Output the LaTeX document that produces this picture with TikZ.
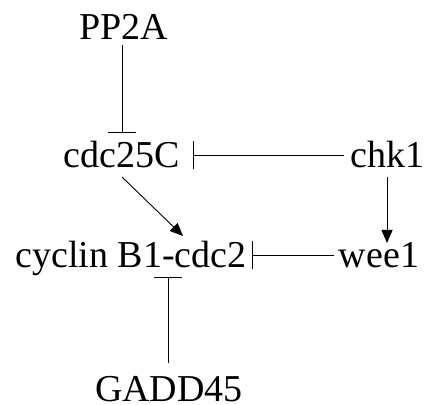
\documentclass[tikz,border=0pt]{standalone}
\usepackage{fontspec}
\setmainfont{Liberation Serif}
\usetikzlibrary{arrows.meta,calc}
\begin{document}
\begin{tikzpicture}[x=1pt,y=1pt,
  lbl/.style={inner sep=0pt,anchor=base,font=\fontsize{38}{40}\selectfont},
  inh/.style={line width=0.9pt,-{Bar[width=28pt,line width=0.9pt]}},
  act/.style={line width=0.9pt,-{Triangle[length=13pt,width=11pt]}}]
\useasboundingbox (0,0) rectangle (425,404);
\node[lbl] (pp2a) at (124,364) {PP2A};
\node[lbl] (cdc25c) at (121.5,236) {cdc25C};
\node[lbl] (chk1) at (387.5,236) {chk1};
\node[lbl] (cyc) at (131,136) {cyclin B1-cdc2};
\node[lbl] (wee1) at (379,136) {wee1};
\node[lbl] (gadd) at (169,3) {GADD45};
\draw[inh] ($(pp2a.base)+(-2,-5)$) -- ($(cdc25c.base)+(0.5,35)$);
\draw[inh] ($(chk1.base west)+(-6,13)$) -- ($(cdc25c.base east)+(13,13)$);
\draw[act] ($(chk1.base)+(-0.5,-9)$) -- ($(chk1.base |- wee1.base)+(-0.5,25)$);
\draw[act] ($(cdc25c.base)+(0.5,-9)$) -- ($(cyc.base)+(52,32)$);
\draw[inh] ($(wee1.base west)+(-5,13)$) -- ($(cyc.base east)+(5,13)$);
\draw[inh] ($(gadd.base)+(-1,38)$) -- ($(gadd.base |- cyc.base)+(-1,-9)$);
\end{tikzpicture}
\end{document}
